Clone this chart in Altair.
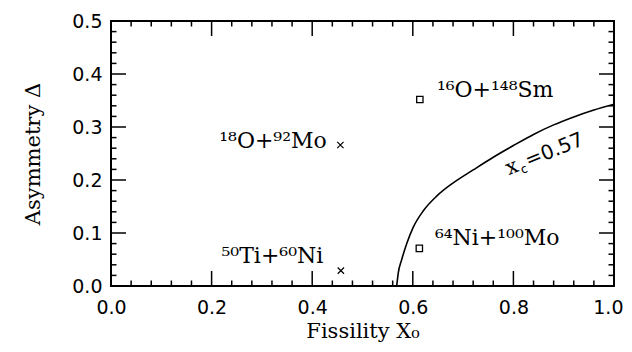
import altair as alt
import pandas as pd

# ---------------- data ----------------
curve_x = [0.568, 0.571, 0.578, 0.588, 0.601, 0.621, 0.648, 0.681, 0.720,
           0.760, 0.800, 0.840, 0.880, 0.920, 0.960, 1.000]
curve_y = [0.000, 0.024, 0.050, 0.080, 0.111, 0.142, 0.170, 0.195, 0.219,
           0.243, 0.265, 0.286, 0.304, 0.319, 0.332, 0.343]

cross_x = [0.456, 0.457]
cross_y = [0.266, 0.029]
square_x = [0.614, 0.613]
square_y = [0.352, 0.071]

left_labels = ["¹⁸O+⁹²Mo", "⁵⁰Ti+⁶⁰Ni"]
left_label_x = [0.429, 0.422]
left_label_y = [0.260, 0.043]
right_labels = ["¹⁶O+¹⁴⁸Sm", "⁶⁴Ni+¹⁰⁰Mo"]
right_label_x = [0.648, 0.644]
right_label_y = [0.356, 0.077]

xc_x = [0.791]
xc_y = [0.209]

x_major = [0.0, 0.2, 0.4, 0.6, 0.8, 1.0]
x_minor = [0.04, 0.08, 0.12, 0.16, 0.24, 0.28, 0.32, 0.36, 0.44, 0.48, 0.52,
           0.56, 0.64, 0.68, 0.72, 0.76, 0.84, 0.88, 0.92, 0.96]
y_major = [0.0, 0.1, 0.2, 0.3, 0.4, 0.5]
y_minor = [0.02, 0.04, 0.06, 0.08, 0.12, 0.14, 0.16, 0.18, 0.22, 0.24, 0.26,
           0.28, 0.32, 0.34, 0.36, 0.38, 0.42, 0.44, 0.46, 0.48]

# ---------------- layout ----------------
W, H = 503, 265
MAJ, MIN = 15, 5.5
SERIF = "DejaVu Serif"
SANS = "DejaVu Sans"

xs = alt.Scale(domain=[0, 1], nice=False, zero=False)
ys = alt.Scale(domain=[0, 0.5], nice=False, zero=False)

axis_style = dict(
    ticks=False, domain=False, grid=False, format=".1f", labelFlush=False,
    labelFont=SANS, labelFontSize=19, labelColor="black",
    titleFont=SERIF, titleFontSize=21, titleFontWeight="normal",
    titleColor="black",
)
x_axis = alt.Axis(
    values=x_major, labelPadding=12, titlePadding=3,
    labelAlign={"condition": {"test": "datum.value >= 1", "value": "right"},
                "value": "center"},
    labelOffset={"condition": {"test": "datum.value >= 1", "value": 9},
                 "value": 0},
    title="Fissility X₀", **axis_style)
y_axis = alt.Axis(values=y_major, labelPadding=9, titlePadding=28,
                  title="Asymmetry Δ", **axis_style)


def X(field):
    return alt.X(field, type="quantitative", scale=xs, axis=x_axis)


def Y(field):
    return alt.Y(field, type="quantitative", scale=ys, axis=y_axis)


curve_df = pd.DataFrame({"x": curve_x, "y": curve_y})
cross_df = pd.DataFrame({"x": cross_x, "y": cross_y})
square_df = pd.DataFrame({"x": square_x, "y": square_y})
left_df = pd.DataFrame({"x": left_label_x, "y": left_label_y, "t": left_labels})
right_df = pd.DataFrame({"x": right_label_x, "y": right_label_y, "t": right_labels})
xc_df = pd.DataFrame({"x": xc_x, "y": xc_y})
xmaj_df = pd.DataFrame({"v": x_major})
xmin_df = pd.DataFrame({"v": x_minor})
ymaj_df = pd.DataFrame({"v": y_major})
ymin_df = pd.DataFrame({"v": y_minor})

layers = []

curve = alt.Chart(curve_df).mark_line(
    color="black", strokeWidth=1.6, interpolate="monotone", clip=True
).encode(x=X("x"), y=Y("y"))
layers.append(curve)

# inward ticks on all four sides
for df, L in ((xmaj_df, MAJ), (xmin_df, MIN)):
    layers.append(alt.Chart(df).mark_rule(color="black", strokeWidth=1.5).encode(
        x=X("v"), y=alt.value(H), y2=alt.value(H - L)))
    layers.append(alt.Chart(df).mark_rule(color="black", strokeWidth=1.5).encode(
        x=X("v"), y=alt.value(0), y2=alt.value(L)))
for df, L in ((ymaj_df, MAJ), (ymin_df, MIN)):
    layers.append(alt.Chart(df).mark_rule(color="black", strokeWidth=1.5).encode(
        y=Y("v"), x=alt.value(0), x2=alt.value(L)))
    layers.append(alt.Chart(df).mark_rule(color="black", strokeWidth=1.5).encode(
        y=Y("v"), x=alt.value(W), x2=alt.value(W - L)))

crosses = alt.Chart(cross_df).mark_point(
    shape="M-1,-1L1,1M-1,1L1,-1", filled=False, color="black",
    strokeWidth=1.2, size=40, opacity=1
).encode(x=X("x"), y=Y("y"))
squares = alt.Chart(square_df).mark_point(
    shape="square", filled=False, color="black", strokeWidth=1.3, size=40,
    opacity=1
).encode(x=X("x"), y=Y("y"))
layers += [crosses, squares]

left_text = alt.Chart(left_df).mark_text(
    font=SERIF, fontSize=22, align="right", baseline="alphabetic", color="black"
).encode(x=X("x"), y=Y("y"), text="t:N")
right_text = alt.Chart(right_df).mark_text(
    font=SERIF, fontSize=22, align="left", baseline="alphabetic", color="black"
).encode(x=X("x"), y=Y("y"), text="t:N")
layers += [left_text, right_text]

ANG = 338
xc1 = alt.Chart(xc_df).mark_text(
    text="x", font=SERIF, fontSize=21, align="left",
    baseline="alphabetic", angle=ANG, color="black"
).encode(x=X("x"), y=Y("y"))
xc2 = alt.Chart(xc_df).mark_text(
    text="c", font=SANS, fontSize=12, align="left", baseline="alphabetic",
    angle=ANG, dx=13, dy=4, color="black"
).encode(x=X("x"), y=Y("y"))
xc3 = alt.Chart(xc_df).mark_text(
    text="=0.57", font=SANS, fontSize=20, align="left", baseline="alphabetic",
    angle=ANG, dx=21, color="black"
).encode(x=X("x"), y=Y("y"))
layers += [xc1, xc2, xc3]

chart = alt.layer(*layers).properties(
    width=W, height=H,
    background="white",
    autosize=alt.AutoSizeParams(type="none"),
    padding={"left": 103, "top": 13, "right": 10, "bottom": 58},
).configure_view(
    stroke="black", strokeWidth=2
)

chart.save("out.html", embed_options={"renderer": "svg", "actions": False})
